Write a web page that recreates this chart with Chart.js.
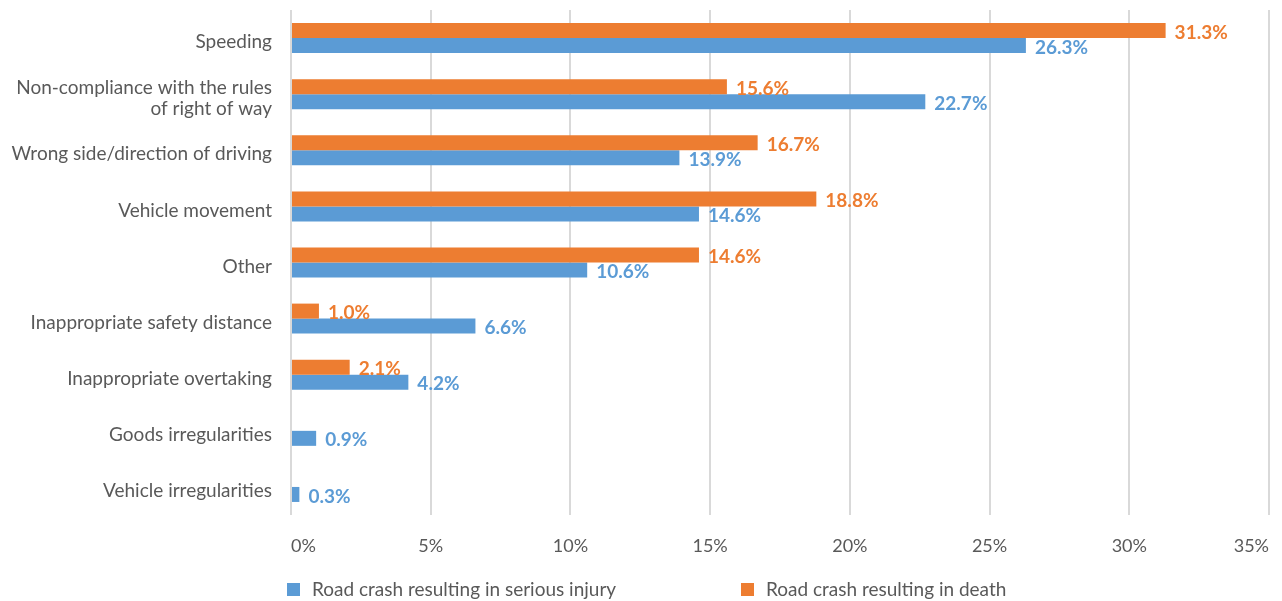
<!DOCTYPE html>
<html>
<head>
<meta charset="utf-8">
<script src="https://cdn.jsdelivr.net/npm/chart.js@4.4.1/dist/chart.umd.min.js"></script>
<style>
  html, body { margin: 0; padding: 0; background: #ffffff; }
  #wrap { width: 1282px; height: 601px; }
</style>
</head>
<body>
<div id="wrap"><canvas id="c"></canvas></div>
<script>
// Causes of road crashes (share of crashes, %)
const categories = [
  'Speeding',
  ['Non-compliance with the rules', 'of right of way'],
  'Wrong side/direction of driving',
  'Vehicle movement',
  'Other',
  'Inappropriate safety distance',
  'Inappropriate overtaking',
  'Goods irregularities',
  'Vehicle irregularities'
];
const deathShare  = [31.3, 15.6, 16.7, 18.8, 14.6, 1.0, 2.1, null, null];
const injuryShare = [26.3, 22.7, 13.9, 14.6, 10.6, 6.6, 4.2, 0.9, 0.3];
const seriesNames = ['Road crash resulting in death', 'Road crash resulting in serious injury'];
const xTicks = [0, 5, 10, 15, 20, 25, 30, 35];

const ORANGE = '#ED7D31';
const BLUE = '#5B9BD5';
const TEXT = '#595959';
const FONT = 'Lato, "Open Sans", sans-serif';

// Writes each bar's value just past its end, in the bar's colour
const valueLabels = {
  id: 'valueLabels',
  afterDatasetsDraw(chart) {
    const ctx = chart.ctx;
    ctx.save();
    ctx.font = 'bold 19px ' + FONT;
    ctx.textBaseline = 'middle';
    ctx.textAlign = 'left';
    chart.data.datasets.forEach((ds, i) => {
      const meta = chart.getDatasetMeta(i);
      meta.data.forEach((bar, j) => {
        const v = ds.data[j];
        if (v === null || v === undefined) return;
        ctx.fillStyle = ds.backgroundColor;
        ctx.fillText(v.toFixed(1) + '%', bar.x + 9, bar.y + 2);
      });
    });
    ctx.restore();
  }
};

// Legend row under the axis: injury series first, then death
const legendRow = {
  id: 'legendRow',
  afterDraw(chart) {
    const ctx = chart.ctx;
    const items = [
      { ds: chart.data.datasets[1], x: 287 },
      { ds: chart.data.datasets[0], x: 741 }
    ];
    const y = 590;
    ctx.save();
    ctx.font = '19px ' + FONT;
    ctx.textBaseline = 'middle';
    ctx.textAlign = 'left';
    items.forEach(it => {
      ctx.fillStyle = it.ds.backgroundColor;
      ctx.fillRect(it.x, y - 7, 13, 13);
      ctx.fillStyle = TEXT;
      ctx.fillText(it.ds.label, it.x + 25, y);
    });
    ctx.restore();
  }
};

new Chart(document.getElementById('c'), {
  type: 'bar',
  data: {
    labels: categories,
    datasets: [
      { label: seriesNames[0], data: deathShare, backgroundColor: ORANGE },
      { label: seriesNames[1], data: injuryShare, backgroundColor: BLUE }
    ]
  },
  options: {
    indexAxis: 'y',
    responsive: true,
    maintainAspectRatio: false,
    animation: false,
    datasets: { bar: { categoryPercentage: 0.535, barPercentage: 1.0 } },
    layout: { padding: { top: 10, right: 13, left: 0, bottom: 36 } },
    scales: {
      x: {
        min: 0,
        max: 35,
        afterBuildTicks(scale) { scale.ticks = xTicks.map(v => ({ value: v })); },
        afterFit(scale) { scale.height = 50; scale.paddingRight = 0; scale.paddingLeft = 0; },
        ticks: {
          callback: v => v + '%',
          color: TEXT,
          font: { family: FONT, size: 18 },
          padding: 20,
          align: 'inner',
          maxRotation: 0
        },
        grid: { color: '#d9d9d9', lineWidth: 2, drawTicks: false },
        border: { display: false }
      },
      y: {
        afterFit(scale) { scale.width = 291; scale.paddingTop = 0; scale.paddingBottom = 0; },
        ticks: {
          autoSkip: false,
          color: TEXT,
          font: { family: FONT, size: 19, lineHeight: 1.1 },
          padding: 19,
          labelOffset: 4
        },
        grid: { display: false, drawTicks: false },
        border: { display: false }
      }
    },
    plugins: {
      legend: { display: false },
      tooltip: { enabled: false }
    }
  },
  plugins: [valueLabels, legendRow]
});
</script>
</body>
</html>
